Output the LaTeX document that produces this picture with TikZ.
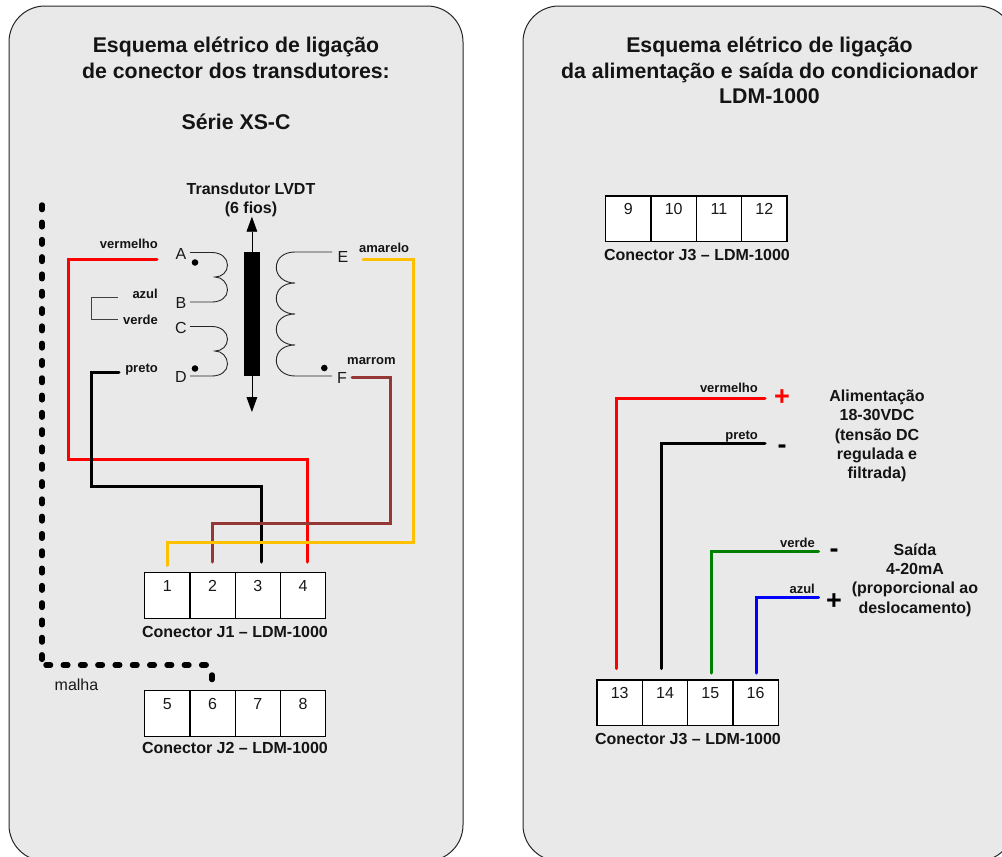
\documentclass[tikz,border=0pt]{standalone}
\usepackage{fontspec}
\setmainfont{Liberation Sans}
\usetikzlibrary{arrows.meta,calc}
\tikzset{
  panel/.style={draw=black!85,line width=1pt,fill=panelgrey,rounded corners=36pt},
  cell/.style={draw=black,line width=1.3pt,fill=white,minimum width=45.3pt,minimum height=45.7pt,inner sep=0pt},
  num/.style={font=\fontsize{16}{19}\selectfont,text=black!90,inner sep=0pt},
  wirelw/.style={line width=3pt,line cap=round,line join=miter},
  thin wire/.style={line width=1pt,draw=black!75},
  coil/.style={line width=0.9pt,draw=black!85},
  title/.style={font=\fontsize{21.3}{25.6}\selectfont\bfseries,align=center,inner sep=0pt,text=black!92},
  head/.style={font=\fontsize{16}{19.2}\selectfont\bfseries,align=center,inner sep=0pt,text=black!92},
  small/.style={font=\fontsize{13}{15}\selectfont\bfseries,inner sep=0pt,text=black!92},
  terminal/.style={font=\fontsize{16}{19}\selectfont,inner sep=0pt,anchor=base,text=black!90},
  sign/.style={font=\fontsize{27}{27}\selectfont\bfseries,inner sep=0pt},
  conlabel/.style={font=\fontsize{16}{19}\selectfont\bfseries,inner sep=0pt,text=black!92},
  dotmark/.style={circle,fill=black,inner sep=0pt,minimum size=6.6pt},
  shield/.style={line width=5.5pt,line cap=round,dash pattern=on 4.5pt off 12.8pt}
}
\definecolor{panelgrey}{HTML}{E9E9E9}
\definecolor{wyellow}{HTML}{FFC000}
\definecolor{wbrown}{HTML}{953735}
\definecolor{wgreen}{HTML}{008000}
\begin{document}
\begin{tikzpicture}[x=1pt,y=-1pt]
\path[clip] (0,0) rectangle (1002,857);
\fill[white] (0,0) rectangle (1002,857);
% panels
\draw[panel] (9,6) rectangle (463,861);
\draw[panel] (523,6) rectangle (1014,861);
% titles
\node[title] (t1) at (236,57.5) {Esquema elétrico de ligação\\de conector dos transdutores:};
\node[title] (t2) at (236,122) {Série XS-C};
\node[title] (t3) at (769.5,70.5) {Esquema elétrico de ligação\\da alimentação e saída do condicionador\\LDM-1000};
\node[head] (t4) at (251,200) {Transdutor LVDT\\(6 fios)};
% connector blocks
\foreach \n [count=\k from 0] in {1,2,3,4}
  \node[cell,label={[num,yshift=9.8pt]center:\n}] (c\n) at (167.2+45.3*\k,595.3) {};
\foreach \n [count=\k from 0] in {5,6,7,8}
  \node[cell,label={[num,yshift=9.8pt]center:\n}] (c\n) at (167.2+45.3*\k,713.5) {};
\foreach \n [count=\k from 0] in {9,10,11,12}
  \node[cell,label={[num,yshift=9.8pt]center:\n}] (c\n) at (628.4+45.3*\k,218.8) {};
\foreach \n [count=\k from 0] in {13,14,15,16}
  \node[cell,label={[num,yshift=9.8pt]center:\n}] (c\n) at (619.7+45.3*\k,702.8) {};
\node[conlabel] (l1) at (235,631.6) {Conector J1 – LDM-1000};
\node[conlabel] (l2) at (235,747.7) {Conector J2 – LDM-1000};
\node[conlabel] (l3) at (697,255) {Conector J3 – LDM-1000};
\node[conlabel] (l4) at (688,739) {Conector J3 – LDM-1000};
% terminals
\node[terminal] (A) at (181,259) {A};
\node[terminal] (B) at (181,308) {B};
\node[terminal] (C) at (181,333) {C};
\node[terminal] (D) at (181,382) {D};
\node[terminal] (E) at (343,262) {E};
\node[terminal] (F) at (342,383) {F};
% transformer core and armature arrows
\node[fill=black,minimum width=16.3pt,minimum height=124pt,inner sep=0pt] (core) at (251.9,314) {};
\coordinate (tipU) at (251.9,216.7);
\coordinate (tipD) at (251.9,412);
\draw[line width=0.8pt,-{Triangle[width=10.7pt,length=15pt]}] (core.north) -- (tipU);
\draw[line width=0.8pt,-{Triangle[width=10.7pt,length=15pt]}] (core.south) -- (tipD);
% coils
\draw[coil] (190,252.5) -- (212,252.5) .. controls (221,252.5) and (227.5,258) .. (227.5,265)
  .. controls (227.5,272) and (222,277) .. (215,277) .. controls (222,277) and (227.5,283) .. (227.5,290)
  .. controls (227.5,297) and (221,302) .. (212,302) -- (190,302);
\draw[coil] (190,326.5) -- (212,326.5) .. controls (221,326.5) and (227.5,332) .. (227.5,339)
  .. controls (227.5,346) and (222,351) .. (215,351) .. controls (222,351) and (227.5,357) .. (227.5,364)
  .. controls (227.5,371) and (221,376) .. (212,376) -- (190,376);
\draw[coil] (332,252) -- (295,252) .. controls (284,252) and (276.3,258) .. (276.3,267.5)
  .. controls (276.3,276) and (284,283) .. (295,283) .. controls (284,283) and (276.3,289) .. (276.3,298.5)
  .. controls (276.3,307) and (284,314) .. (295,314) .. controls (284,314) and (276.3,320) .. (276.3,329.5)
  .. controls (276.3,338) and (284,345) .. (295,345) .. controls (284,345) and (276.3,351) .. (276.3,360.5)
  .. controls (276.3,369) and (284,376) .. (295,376) -- (332,376);
\node[dotmark] (dA) at (195,262.5) {};
\node[dotmark] (dD) at (195,368.5) {};
\node[dotmark] (dF) at (324.3,368) {};
% link azul-verde
\coordinate (az) at (118,297);
\coordinate (ve) at (118,319.5);
\draw[thin wire] (az) -- (91.5,297) -- (91.5,319.5) -- (ve);
% wires, left panel
\coordinate (wA) at (157,259);
\coordinate (wD) at (119,372);
\coordinate (wE) at (363,259);
\coordinate (wF) at (352,377);
\coordinate (w1) at (167,565.5);
\coordinate (w2) at (212,562);
\coordinate (w3) at (261.7,562);
\coordinate (w4) at (307,562);
\draw[wirelw,draw=red] (wA) -- (68,259) -- (68,459) -- (307,459) -- (w4);
\draw[wirelw,draw=black] (wD) -- (91,372) -- (91,486) -- (261.7,486) -- (w3);
\draw[wirelw,draw=wbrown] (wF) -- (390,377) -- (390,523.5) -- (212,523.5) -- (w2);
\draw[wirelw,draw=wyellow] (wE) -- (413,259) -- (413,542.5) -- (167,542.5) -- (w1);
% shield
\coordinate (sTop) at (42,205);
\coordinate (sEnd) at (212,681);
\draw[shield] (sTop) -- (42,660);
\draw[shield] (46,665) -- (211,665);
\draw[shield] (212,675) -- (sEnd);
\node[num] (malha) at (76.5,685) {malha};
% wires, right panel
\coordinate (rR) at (765,398);
\coordinate (rK) at (765,443.5);
\coordinate (rG) at (818.5,551.7);
\coordinate (rB) at (818.5,597);
\coordinate (e1) at (616,668.5);
\coordinate (e2) at (661.7,668.5);
\coordinate (e3) at (711.5,673);
\coordinate (e4) at (756.8,673);
\draw[wirelw,draw=red] (rR) -- (616,398) -- (e1);
\draw[wirelw,draw=black] (rK) -- (661.7,443.5) -- (e2);
\draw[wirelw,draw=wgreen] (rG) -- (711.5,551.7) -- (e3);
\draw[wirelw,draw=blue] (rB) -- (756.8,597) -- (e4);
% wire labels, left
\node[small,anchor=base east] (n1) at (158,248.3) {vermelho};
\node[small,anchor=base east] (n2) at (158,298) {azul};
\node[small,anchor=base east] (n3) at (158,324) {verde};
\node[small,anchor=base east] (n4) at (158,372) {preto};
\node[small,anchor=base west] (n5) at (359,252) {amarelo};
\node[small,anchor=base west] (n6) at (347,364) {marrom};
% wire labels, right
\node[small,anchor=base east] (n7) at (758,392.7) {vermelho};
\node[small,anchor=base east] (n8) at (758,439) {preto};
\node[small,anchor=base east] (n9) at (815,547) {verde};
\node[small,anchor=base east] (n10) at (815,593) {azul};
% signs
\node[sign,text=red] (s1) at (782,398) {+};
\node[sign] (s2) at (782,449) {-};
\node[sign] (s3) at (834,553) {-};
\node[sign] (s4) at (834,602) {+};
% side texts
\node[head] (h1) at (877,436) {Alimentação\\18-30VDC\\(tensão DC\\regulada e\\filtrada)};
\node[head] (h2) at (915,580) {Saída\\4-20mA\\(proporcional ao\\deslocamento)};
\end{tikzpicture}
\end{document}
